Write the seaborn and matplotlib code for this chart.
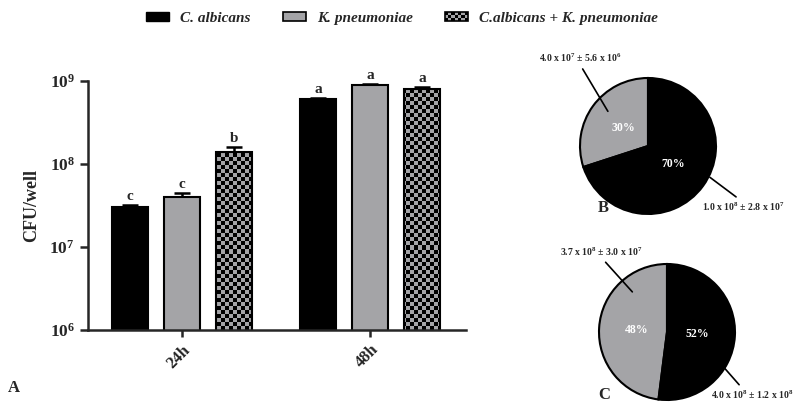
import numpy as np
import pandas as pd
import matplotlib
import matplotlib.pyplot as plt
import seaborn as sns
from matplotlib.patches import Patch, Rectangle
from matplotlib.legend_handler import HandlerPatch

# data
times = ['24h', '48h']
species = ['C. albicans', 'K. pneumoniae', 'C.albicans + K. pneumoniae']
means_24h = [3.0e7, 4.0e7, 1.38e8]
means_48h = [6.0e8, 8.9e8, 7.9e8]
sds_24h = [0.2e7, 0.5e7, 0.22e8]
sds_48h = [0.2e8, 0.4e8, 0.5e8]
letters_24h = ['c', 'c', 'b']
letters_48h = ['a', 'a', 'a']

pie_b_values = [30, 70]
pie_b_labels = [r'4.0 x 10$^{7}$ $\pm$ 5.6 x 10$^{6}$', r'1.0 x 10$^{8}$ $\pm$ 2.8 x 10$^{7}$']
pie_c_values = [48, 52]
pie_c_labels = [r'3.7 x 10$^{8}$ $\pm$ 3.0 x 10$^{7}$', r'4.0 x 10$^{8}$ $\pm$ 1.2 x 10$^{8}$']

GREY = '#a4a4a7'
colors = ['black', GREY, GREY]

sns.set_style('ticks')
plt.rcParams['font.family'] = ['Liberation Serif', 'DejaVu Serif']
plt.rcParams['font.weight'] = 'bold'
plt.rcParams['mathtext.fontset'] = 'custom'
plt.rcParams['mathtext.rm'] = 'Liberation Serif:bold'
plt.rcParams['mathtext.it'] = 'Liberation Serif:bold:italic'
plt.rcParams['mathtext.bf'] = 'Liberation Serif:bold'

df = pd.DataFrame({
    'time': np.repeat(times, 3),
    'species': species * 2,
    'cfu': means_24h + means_48h,
})
sd = np.array(sds_24h + sds_48h)
letters = letters_24h + letters_48h

W, H = 796, 408
fig = plt.figure(figsize=(W / 100, H / 100), dpi=100)

# panel A
ax = fig.add_axes([88 / W, 1 - 330 / H, (466 - 88) / W, (330 - 81) / H])
sns.barplot(data=df, x='time', y='cfu', hue='species', palette=colors,
            width=0.83, gap=0.31, errorbar=None,
            edgecolor='black', linewidth=1.5, legend=False, ax=ax)
ax.set_yscale('log')
ax.set_ylim(1e6, 1e9)
ax.set_xlim(-0.5, 1.51)

bars = ax.patches
# seaborn orders patches by hue then category
order = []
for h in range(3):
    for t in range(2):
        order.append((t, h))
xs = np.zeros(6)
for bar, (t, h) in zip(bars, order):
    xs[t * 3 + h] = bar.get_x() + bar.get_width() / 2

ax.errorbar(xs, df['cfu'], yerr=[np.zeros(6), sd], fmt='none', ecolor='black',
            elinewidth=1.8, capsize=6, capthick=1.8, zorder=0.8)
for x, y, s, l in zip(xs, df['cfu'], sd, letters):
    ax.text(x, (y + s) * 1.06, l, ha='center', va='bottom', fontsize=11, fontweight='bold')

# checkerboard fill for the mixed culture bars
bb = ax.get_position()
nx = int(round(bb.width * W / 4))
ny = int(round(bb.height * H / 4))
checker = (np.add.outer(np.arange(ny), np.arange(nx)) % 2)
cmap = matplotlib.colors.ListedColormap(['black', GREY])
for bar, (t, h) in zip(bars, order):
    bar.set_zorder(1)
    if h == 2:
        im = ax.imshow(checker, cmap=cmap, extent=[0, 1, 0, 1], transform=ax.transAxes,
                       interpolation='nearest', aspect='auto', zorder=0.9)
        im.set_clip_path(bar)
        bar.set_facecolor('none')
ax.set_xlim(-0.5, 1.51)
ax.set_ylim(1e6, 1e9)

ax.set_yticks([1e6, 1e7, 1e8, 1e9])
ax.set_yticklabels([r'10$^{6}$', r'10$^{7}$', r'10$^{8}$', r'10$^{9}$'])
ax.yaxis.set_minor_locator(matplotlib.ticker.NullLocator())
ax.tick_params(axis='y', length=6, width=1.8, labelsize=12.5)
ax.tick_params(axis='x', length=5, width=1.8, labelsize=12)
for lab in ax.get_xticklabels():
    lab.set_rotation(45)
    lab.set_ha('right')
    lab.set_rotation_mode('anchor')
    lab.set_fontweight('bold')
ax.set_xlabel('')
ax.set_ylabel('CFU/well', fontsize=13, fontweight='bold', labelpad=7)
sns.despine(ax=ax)
for s in ['left', 'bottom']:
    ax.spines[s].set_linewidth(1.8)


def draw_pie(cx, cy, values, labels, text_pos, points, rel):
    r = 68
    pax = fig.add_axes([(cx - 2.5 * r / 2) / W, 1 - (cy + 2.5 * r / 2) / H, 2.5 * r / W, 2.5 * r / H])
    pax.pie(values, colors=[GREY, 'black'], startangle=90, counterclock=True,
            autopct='%d%%', pctdistance=0.45,
            wedgeprops=dict(edgecolor='black', linewidth=1.5),
            textprops=dict(color='white', fontsize=8.5, fontweight='bold'))
    for lab, tp, pt, rp in zip(labels, text_pos, points, rel):
        pax.annotate(lab, xy=pt, xytext=tp, ha='center', va='center', fontsize=7,
                     fontweight='bold', annotation_clip=False,
                     arrowprops=dict(arrowstyle='-', color='black', lw=1.2,
                                     relpos=rp, shrinkA=1, shrinkB=0))
    return pax


draw_pie(648, 146, pie_b_values, pie_b_labels,
         [(-1.0, 1.29), (1.40, -0.90)], [(-0.59, 0.51), (0.91, -0.46)],
         [(0.5, 0.0), (0.48, 1.0)])
draw_pie(667, 332, pie_c_values, pie_c_labels,
         [(-0.96, 1.18), (1.25, -0.93)], [(-0.51, 0.59), (0.81, -0.49)],
         [(0.5, 0.0), (0.39, 1.0)])


# legend with checker handle
class CheckerHandler(HandlerPatch):
    def create_artists(self, legend, orig_handle, xdescent, ydescent, width, height, fontsize, trans):
        arts = []
        n = 7
        m = 3
        cw, ch = width / n, height / m
        for i in range(n):
            for j in range(m):
                c = 'black' if (i + j) % 2 == 0 else GREY
                arts.append(Rectangle((-xdescent + i * cw, -ydescent + j * ch), cw, ch,
                                      facecolor=c, edgecolor='none', transform=trans))
        arts.append(Rectangle((-xdescent, -ydescent), width, height, facecolor='none',
                              edgecolor='black', lw=1.2, transform=trans))
        return arts


handles = [Patch(facecolor='black', edgecolor='black'),
           Patch(facecolor=GREY, edgecolor='black', lw=1.2),
           Patch(facecolor='none', edgecolor='black')]
fig.legend(handles, species, loc='upper center', bbox_to_anchor=(0.505, 1.005), ncol=3,
           frameon=False, handlelength=1.5, handleheight=0.6, handletextpad=0.75,
           columnspacing=2.1, prop=dict(family='Liberation Serif', style='italic', weight='bold', size=11),
           handler_map={handles[2]: CheckerHandler()})

for letter, x, y in [('A', 8, 388), ('B', 598, 208), ('C', 598, 395)]:
    fig.text(x / W, 1 - y / H, letter, fontsize=12, fontweight='bold', va='center')

fig.savefig('out.png', dpi=100)
